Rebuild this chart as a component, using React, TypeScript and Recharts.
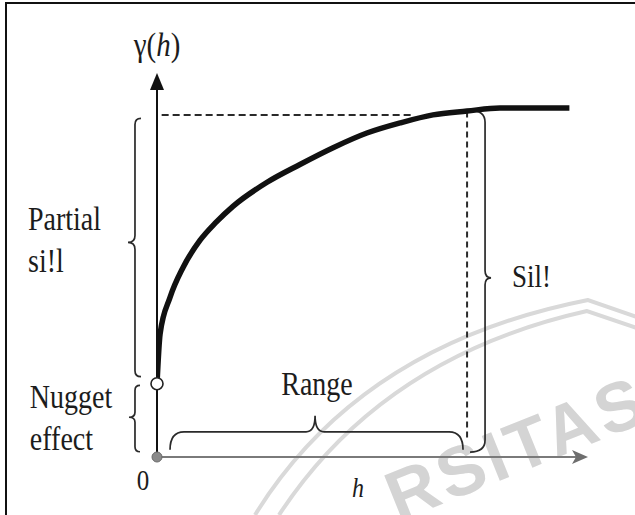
import { LineChart, Line, XAxis, YAxis, ReferenceLine, ReferenceDot } from 'recharts'

// lag distance h and semivariance gamma(h)
const lags = [0, 0.1, 0.42, 0.84, 1.39, 1.9, 2.45, 3.55, 4.61, 5.68, 6.77, 7.84, 8.9, 10, 11.06, 13.3]
const gamma = [2.1, 3.53, 4.57, 5.43, 6.21, 6.72, 7.18, 7.87, 8.38, 8.86, 9.28, 9.57, 9.8, 9.91, 10, 10]

const nugget = 2.1
const sill = 9.8
const range = 10
const hMax = 13.9
const yMax = 11

const data = lags.map((h, i) => ({ h, g: gamma[i] }))

const serif = '"Liberation Serif", "Times New Roman", serif'
const ink = '#1c1c1c'

// curly brace drawn between the two ends of a reference segment
const brace =
  (side: number, endDepth: number, tipDepth: number, tipAt: number, r: number, rt = 7) =>
  (p: any) => {
    const { x1, y1, x2, y2 } = p
    const L = Math.hypot(x2 - x1, y2 - y1)
    const ux = (x2 - x1) / L
    const uy = (y2 - y1) / L
    const nx = -uy * side
    const ny = ux * side
    const P = (s: number, t: number) => `${x1 + ux * s + nx * t},${y1 + uy * s + ny * t}`
    const m = tipAt * L
    const d = [
      `M${P(0, -endDepth)}`,
      `Q${P(0, 0)} ${P(r, 0)}`,
      `L${P(m - rt, 0)}`,
      `Q${P(m, 0)} ${P(m, tipDepth)}`,
      `Q${P(m, 0)} ${P(m + rt, 0)}`,
      `L${P(L - r, 0)}`,
      `Q${P(L, 0)} ${P(L, -endDepth)}`,
    ].join(' ')
    return <path d={d} fill="none" stroke="#2a2a2a" strokeWidth={1.7} />
  }

// text is a bit taller than wide in the scan, so stretch it vertically
const label =
  (text: any, anchor: 'start' | 'middle' = 'start', size = 28, italic = false) =>
  (p: any) => (
    <text
      transform={`translate(${p.cx},${p.cy}) scale(1,1.18)`}
      textAnchor={anchor}
      fontFamily={serif}
      fontSize={size}
      fontStyle={italic ? 'italic' : 'normal'}
      fill={ink}
    >
      {text}
    </text>
  )

function Watermark() {
  return (
    <svg width={635} height={515} style={{ position: 'absolute', left: 0, top: 0 }}>
      <g fill="none" stroke="#d9d9d9" strokeWidth={4}>
        <path d="M255,515 Q360,345 588,300 L640,318" />
        <path d="M279,515 Q382,357 587,311 L640,329" />
      </g>
      <text
        x={398}
        y={522}
        transform="rotate(-22 398 522)"
        fontFamily='"Liberation Sans", Arial, sans-serif'
        fontWeight={700}
        fontSize={70}
        letterSpacing={4}
        fill="#d4d4d4"
      >
        RSITAS
      </text>
    </svg>
  )
}

export default function App() {
  return (
    <div
      style={{
        position: 'fixed',
        left: 0,
        top: 0,
        width: 635,
        height: 515,
        overflow: 'hidden',
        background: '#fff',
      }}
    >
      <Watermark />
      <div style={{ position: 'absolute', left: 0, top: 0 }}>
        <LineChart
          width={635}
          height={515}
          data={data}
          margin={{ top: 73, right: 47, bottom: 58, left: 157 }}
        >
          <XAxis dataKey="h" type="number" domain={[0, hMax]} allowDataOverflow hide />
          <YAxis type="number" domain={[0, yMax]} allowDataOverflow hide />

          {/* axes */}
          <ReferenceLine
            segment={[{ x: 0, y: 0 }, { x: hMax - 0.3, y: 0 }]}
            stroke="#7a7a7a"
            strokeWidth={1.8}
            ifOverflow="visible"
          />
          <ReferenceLine
            segment={[{ x: 0, y: 0 }, { x: 0, y: yMax - 0.4 }]}
            stroke="#111"
            strokeWidth={2}
            ifOverflow="visible"
          />
          <ReferenceDot
            x={0}
            y={yMax}
            ifOverflow="visible"
            shape={(p: any) => (
              <path d={`M${p.cx},${p.cy} L${p.cx - 7},${p.cy + 17} L${p.cx + 7},${p.cy + 17} Z`} fill="#111" />
            )}
          />
          <ReferenceDot
            x={hMax}
            y={0}
            ifOverflow="visible"
            shape={(p: any) => (
              <path
                d={`M${p.cx},${p.cy} L${p.cx - 16},${p.cy - 7} L${p.cx - 12},${p.cy} L${p.cx - 16},${p.cy + 7} Z`}
                fill="#6e6e6e"
              />
            )}
          />

          {/* guides */}
          <ReferenceLine
            segment={[{ x: 0.15, y: sill }, { x: 8.3, y: sill }]}
            stroke="#2a2a2a"
            strokeWidth={2}
            strokeDasharray="7 4"
            ifOverflow="visible"
          />
          <ReferenceLine
            segment={[{ x: range, y: 9.9 }, { x: range, y: 0.45 }]}
            stroke="#2a2a2a"
            strokeWidth={2}
            strokeDasharray="6 4"
            ifOverflow="visible"
          />

          {/* braces */}
          <ReferenceLine
            segment={[{ x: -0.71, y: 9.7 }, { x: -0.71, y: 2.3 }]}
            ifOverflow="visible"
            shape={brace(1, 6, 7, 0.48, 6)}
          />
          <ReferenceLine
            segment={[{ x: -0.71, y: 2.05 }, { x: -0.71, y: 0.15 }]}
            ifOverflow="visible"
            shape={brace(1, 5, 6, 0.48, 5, 5)}
          />
          <ReferenceLine
            segment={[{ x: 10.58, y: 9.93 }, { x: 10.58, y: 0.14 }]}
            ifOverflow="visible"
            shape={brace(-1, 15, 6, 0.49, 12)}
          />
          <ReferenceLine
            segment={[{ x: 0.42, y: 0.72 }, { x: 9.87, y: 0.72 }]}
            ifOverflow="visible"
            shape={brace(-1, 18, 16, 0.495, 14, 9)}
          />

          <Line
            dataKey="g"
            type="monotone"
            stroke="#111"
            strokeWidth={5.5}
            dot={false}
            activeDot={false}
            isAnimationActive={false}
          />

          <ReferenceDot x={0} y={0} r={5} fill="#8a8a8a" stroke="#6a6a6a" ifOverflow="visible" />
          <ReferenceDot x={0} y={nugget} r={6} fill="#fff" stroke="#222" strokeWidth={1.6} ifOverflow="visible" />

          {/* text */}
          <ReferenceDot
            x={0}
            y={11.5}
            ifOverflow="visible"
            shape={label(
              <>
                γ(<tspan fontStyle="italic">h</tspan>)
              </>,
              'middle',
              29
            )}
          />
          <ReferenceDot x={-4.16} y={6.5} ifOverflow="visible" shape={label('Partial')} />
          <ReferenceDot x={-4.16} y={5.3} ifOverflow="visible" shape={label('si!l')} />
          <ReferenceDot x={-4.1} y={1.4} ifOverflow="visible" shape={label('Nugget')} />
          <ReferenceDot x={-4.1} y={0.2} ifOverflow="visible" shape={label('effect')} />
          <ReferenceDot x={5.16} y={1.78} ifOverflow="visible" shape={label('Range', 'middle')} />
          <ReferenceDot x={11.45} y={4.87} ifOverflow="visible" shape={label('Sil!', 'start', 27)} />
          <ReferenceDot x={-0.45} y={-0.95} ifOverflow="visible" shape={label('0', 'middle', 25)} />
          <ReferenceDot x={6.48} y={-1.15} ifOverflow="visible" shape={label('h', 'middle', 24, true)} />
        </LineChart>
      </div>
      <div
        style={{
          position: 'absolute',
          left: 5,
          top: 2,
          width: 660,
          height: 540,
          borderLeft: '2px solid #111',
          borderTop: '2px solid #111',
          pointerEvents: 'none',
        }}
      />
    </div>
  )
}
